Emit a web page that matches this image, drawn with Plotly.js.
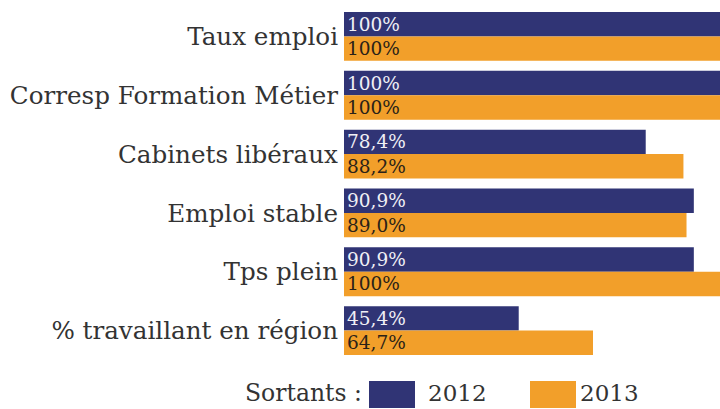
<!DOCTYPE html>
<html><head><meta charset="utf-8">
<script src="https://cdn.plot.ly/plotly-3.0.1.min.js"></script>
<style>html,body{margin:0;padding:0;background:#fff}#c{width:720px;height:409px}</style>
</head><body><div id="c"></div>
<script>
const categories = ["Taux emploi","Corresp Formation Métier","Cabinets libéraux","Emploi stable","Tps plein","% travaillant en région"];
const series2012 = [100,100,78.4,90.9,90.9,45.4];
const series2013 = [100,100,88.2,89.0,100,64.7];
const seriesNames = ["2012","2013"];
const legendTitle = "Sortants :";

const fmt = v => (v === 100 ? "100" : v.toFixed(1).replace(".", ",")) + "%";
const FONT = "DejaVu Serif";
const NAVY = "#303475", ORANGE = "#f29f2a";

const traces = [
  {type:"bar", orientation:"h", y:categories, x:series2012, name:seriesNames[0],
   marker:{color:NAVY}, text:series2012.map(fmt), textposition:"inside", insidetextanchor:"start",
   constraintext:"none",
   textfont:{family:FONT, size:18.5, color:"#f0f0f5"}, insidetextfont:{family:FONT, size:18.5, color:"#f0f0f5"},
   hoverinfo:"none", cliponaxis:true},
  {type:"bar", orientation:"h", y:categories, x:series2013, name:seriesNames[1],
   marker:{color:ORANGE}, text:series2013.map(fmt), textposition:"inside", insidetextanchor:"start",
   constraintext:"none",
   textfont:{family:FONT, size:18.5, color:"#2a2218"}, insidetextfont:{family:FONT, size:18.5, color:"#2a2218"},
   hoverinfo:"none", cliponaxis:true}
];

const PH = 409 - 7 - 49;
const py = px => -(px - (409 - 49)) / PH;   // pixel y -> paper y
const legendFont = {family:FONT, size:23, color:"#333"};

const layout = {
  width:720, height:409,
  margin:{l:344, r:0, t:7, b:49, pad:0},
  paper_bgcolor:"#fff", plot_bgcolor:"#fff",
  barmode:"group", bargap:0.17, bargroupgap:0,
  showlegend:false,
  font:{family:FONT, color:"#333"},
  xaxis:{range:[0,97.7], visible:false, fixedrange:true},
  yaxis:{autorange:"reversed", showgrid:false, zeroline:false, showline:false, ticks:"",
         ticklabelstandoff:5, tickfont:{family:FONT, size:24.6, color:"#333"}, fixedrange:true},
  shapes:[
    {type:"rect", xref:"paper", yref:"paper", x0:(369-344)/376, x1:(415-344)/376, y0:py(408), y1:py(381), fillcolor:NAVY, line:{width:0}},
    {type:"rect", xref:"paper", yref:"paper", x0:(530-344)/376, x1:(576-344)/376, y0:py(408), y1:py(381), fillcolor:ORANGE, line:{width:0}}
  ],
  annotations:[
    {xref:"paper", yref:"paper", x:(363-344)/376, y:py(393), xanchor:"right", yanchor:"middle", borderpad:0, text:legendTitle, showarrow:false, font:{family:FONT, size:23.5, color:"#333"}},
    {xref:"paper", yref:"paper", x:(427-344)/376, y:py(393), xanchor:"left", yanchor:"middle", borderpad:0, text:seriesNames[0], showarrow:false, font:legendFont},
    {xref:"paper", yref:"paper", x:(579-344)/376, y:py(393), xanchor:"left", yanchor:"middle", borderpad:0, text:seriesNames[1], showarrow:false, font:legendFont}
  ]
};
Plotly.newPlot("c", traces, layout, {staticPlot:true, displayModeBar:false});
</script></body></html>
